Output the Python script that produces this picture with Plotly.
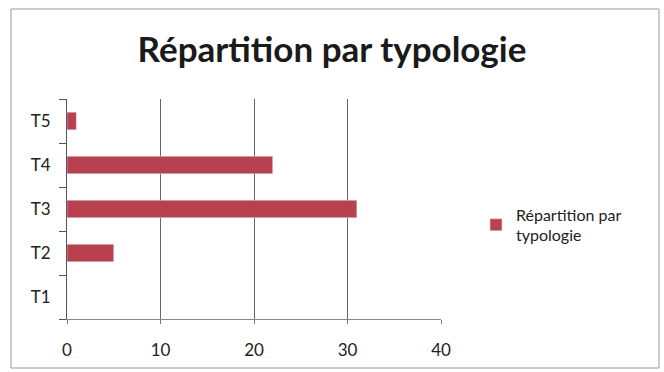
import plotly.graph_objects as go

categories = ["T1", "T2", "T3", "T4", "T5"]
values = [0, 5, 31, 22, 1]
x_ticks = [0, 10, 20, 30, 40]
series_name = "Répartition par<br>typologie"
title_text = "Répartition par typologie"

W, H = 664, 372
L, R, T, B = 67, 223, 99, 53
pw, ph = W - L - R, H - T - B

def px_to_paper_x(px):
    return (px - L) / pw

def px_to_paper_y(py):
    return (H - B - py) / ph

fig = go.Figure()
fig.add_trace(go.Bar(
    y=categories, x=values, orientation="h", name=series_name,
    marker=dict(color="#B7414E"), width=0.4, showlegend=True,
))

font = "Lato, 'Open Sans', sans-serif"
fig.update_layout(
    width=W, height=H,
    margin=dict(l=L, r=R, t=T, b=B, autoexpand=False),
    paper_bgcolor="white", plot_bgcolor="white",
    font=dict(family=font, size=16, color="#222222"),
    title=dict(text="<b>" + title_text + "</b>", x=0.5, xanchor="center",
               y=1 - 50 / H, yanchor="middle",
               font=dict(size=35, color="#1a1a1a", family=font)),
    xaxis=dict(range=[0, 40], tickvals=x_ticks, showgrid=True,
               gridcolor="#666666", gridwidth=1, showline=True,
               linecolor="#888888", zeroline=False, ticks="outside",
               ticklen=4, tickcolor="#777777", ticklabelstandoff=12,
               tickfont=dict(size=17, color="#222222"), automargin=False,
               fixedrange=True),
    yaxis=dict(type="category", categoryorder="array", categoryarray=categories,
               showgrid=False, showline=True, linecolor="#555555",
               ticks="outside", tickson="boundaries", ticklen=7,
               tickcolor="#555555", tickfont=dict(size=17, color="#222222"),
               ticklabelstandoff=12, automargin=False, fixedrange=True),
    legend=dict(x=px_to_paper_x(476), y=px_to_paper_y(225), xanchor="left",
                yanchor="middle", font=dict(size=16, color="#222222"),
                bgcolor="rgba(0,0,0,0)"),
    bargap=0.6,
)

fig.add_shape(type="rect", xref="paper", yref="paper",
              x0=px_to_paper_x(11), x1=px_to_paper_x(659),
              y0=px_to_paper_y(368), y1=px_to_paper_y(9),
              line=dict(color="#999999", width=1), layer="below")

fig.write_html("out.html", config={"displayModeBar": False},
               post_script="document.body.style.margin='0';document.body.style.overflow='hidden';")
